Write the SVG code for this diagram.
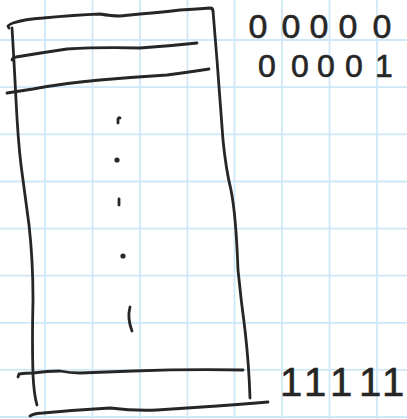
<svg xmlns="http://www.w3.org/2000/svg" width="407" height="419" viewBox="0 0 407 419">
<style>
.grid line{stroke:#cfe8f8;stroke-width:1.8}
.ink{fill:none;stroke:#262626;stroke-width:2.8;stroke-linecap:round;stroke-linejoin:round}
.dig{font-family:"Liberation Sans",Arial,sans-serif;fill:#262626;stroke:#262626;stroke-width:0.6;text-anchor:middle}
</style>
<rect width="407" height="419" fill="#ffffff"/>
<g id="grid" class="grid">
<line x1="45" y1="0" x2="45" y2="419"/>
<line x1="92.5" y1="0" x2="92.5" y2="419"/>
<line x1="140" y1="0" x2="140" y2="419"/>
<line x1="187.5" y1="0" x2="187.5" y2="419"/>
<line x1="234.5" y1="0" x2="234.5" y2="419"/>
<line x1="282" y1="0" x2="282" y2="419"/>
<line x1="329.5" y1="0" x2="329.5" y2="419"/>
<line x1="377" y1="0" x2="377" y2="419"/>
<line x1="0" y1="40" x2="407" y2="40"/>
<line x1="0" y1="87.2" x2="407" y2="87.2"/>
<line x1="0" y1="134.3" x2="407" y2="134.3"/>
<line x1="0" y1="181.5" x2="407" y2="181.5"/>
<line x1="0" y1="228.6" x2="407" y2="228.6"/>
<line x1="0" y1="275.7" x2="407" y2="275.7"/>
<line x1="0" y1="322.8" x2="407" y2="322.8"/>
<line x1="0" y1="369.9" x2="407" y2="369.9"/>
<line x1="0" y1="417" x2="407" y2="417"/>
</g>
<g id="table" class="ink">
<path d="M9,28 L8,26 Q10,24 13,23 Q25,19 43,18 Q75,15 100,14 Q112,16 120,16 Q130,15 140,14 Q165,12 180,10 Q198,9 210,8 Q213,8 213,11"/>
<path d="M213,11 Q215,35 217,60 Q220,100 223,140 Q226,170 231,190 Q236,215 238,270 Q241,300 245,330 Q249,365 250,398"/>
<path d="M12,28 Q14,60 16,100 Q18,140 21,165 Q25,195 29,225 Q33,260 33,300 Q32,340 33,375 Q34,395 37,405"/>
<path d="M12,60 Q13,57 16,57 Q40,53 67,49 Q100,47 140,48 Q170,46 197,43"/>
<path d="M7,93 Q20,91 33,89 Q65,83 100,80 Q135,77 167,75 Q190,72 209,69"/>
<path d="M18,377 L19,374 Q25,373 33,373 Q47,371 60,371 Q70,373 80,373 Q105,372 133,371 Q190,369 243,370"/>
<path d="M30,416 Q35,413 43,413 Q75,410 110,408 Q135,411 157,410 Q185,408 217,406 Q245,404 268,402"/>
</g>
<g id="ellipsis" class="ink">
<path d="M118,123 L118,119 Q119,117 120,118"/>
<circle cx="117" cy="160" r="1.2"/>
<path d="M119,199 L119,205"/>
<circle cx="123" cy="256" r="1.2"/>
<path d="M130,307 Q127,318 132,331"/>
</g>
<g id="labels">
<text class="dig" font-size="34" x="258 291 319 348 382" y="38">00000</text>
<text class="dig" font-size="32" x="267 300 326 354 384" y="77">00001</text>
<text class="dig" font-size="40" x="291 315 341 370 393" y="396">11111</text>
</g>
</svg>
